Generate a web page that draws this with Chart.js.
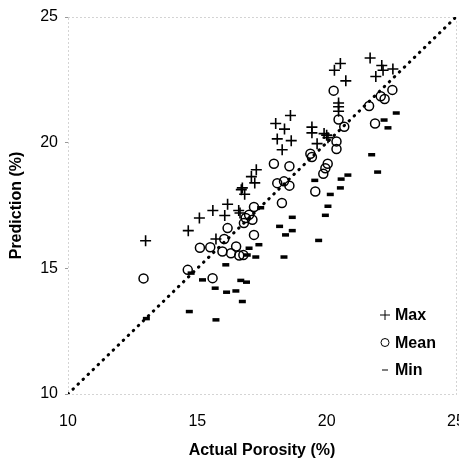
<!DOCTYPE html>
<html>
<head>
<meta charset="utf-8">
<script src="https://cdn.jsdelivr.net/npm/chart.js@4.4.0/dist/chart.umd.min.js"></script>
<style>
  html, body { margin: 0; padding: 0; background: #fff; overflow: hidden; }
  #wrap { width: 459px; height: 462px; overflow: hidden; }
</style>
</head>
<body>
<div id="wrap"><canvas id="porosityChart" width="470" height="462"></canvas></div>
<script>
// values (actual porosity %, predicted %)
const maxX = [13.0, 14.65, 15.08, 15.6, 15.72, 16.06, 16.17, 16.6, 16.65, 16.74, 16.83, 16.7, 17.09, 17.22, 17.28,
  18.03, 18.37, 18.09, 18.6, 18.63, 18.28, 19.43, 19.43, 19.63, 19.9, 20.0, 20.05,
  20.3, 20.53, 20.74, 20.46, 20.46, 20.46, 21.68, 22.13, 22.18, 22.56, 21.9];
const maxY = [16.1, 16.5, 17.0, 17.3, 16.17, 17.1, 17.55, 17.3, 17.2, 18.2, 17.95, 18.13, 18.65, 18.4, 18.92,
  20.76, 20.54, 20.15, 21.08, 20.08, 19.72, 20.62, 20.39, 19.96, 20.36, 20.3, 20.2,
  22.88, 23.15, 22.46, 21.58, 21.43, 21.25, 23.37, 23.07, 22.88, 22.93, 22.63];

const meanX = [12.92, 14.63, 15.1, 15.5, 15.59, 15.97, 16.04, 16.17, 16.3, 16.5, 16.62, 16.78, 16.8, 16.87, 17.0,
  17.13, 17.19, 17.19, 17.96, 18.56, 18.09, 18.35, 18.56, 18.27, 19.37, 19.43, 19.56, 19.87, 19.95, 20.04,
  20.38, 20.38, 20.27, 20.46, 20.68, 21.64, 21.87, 22.09, 22.24, 22.54];
const meanY = [14.6, 14.94, 15.82, 15.84, 14.61, 15.67, 16.17, 16.6, 15.6, 15.87, 15.51, 15.53, 16.8, 17.0, 17.13,
  16.93, 17.44, 16.33, 19.16, 19.06, 18.39, 18.46, 18.29, 17.6, 19.56, 19.43, 18.06, 18.76, 18.98, 19.16,
  20.05, 19.75, 22.07, 20.92, 20.63, 21.46, 20.76, 21.85, 21.74, 22.1];

const minX = [13.03, 14.69, 14.76, 15.2, 15.72, 15.69, 16.1, 16.13, 16.49, 16.68, 16.9, 16.74, 16.93, 17.0, 17.26,
  17.38, 17.45, 18.35, 18.18, 18.41, 18.67, 18.67, 19.54, 19.69, 19.95, 20.05, 20.14, 20.53, 20.56, 20.82,
  21.74, 21.97, 22.22, 22.37, 22.69];
const minY = [13.0, 13.28, 14.81, 14.54, 12.95, 14.21, 15.14, 14.05, 14.1, 14.52, 14.45, 13.68, 15.53, 15.8, 15.45,
  15.94, 17.41, 15.45, 16.67, 16.33, 16.5, 17.03, 18.5, 16.11, 17.11, 17.47, 17.94, 18.2, 18.55, 18.71,
  19.52, 18.83, 20.9, 20.59, 21.18];

const oneToOne = [10, 25];
const axisTicks = [10, 15, 20, 25];

const FONT = '"Liberation Sans", Arial, sans-serif';
const toPoints = (xs, ys) => xs.map((x, i) => ({ x: x, y: ys[i] }));

const frame = {
  id: 'frame',
  beforeDatasetsDraw(chart) {
    const a = chart.chartArea, ctx = chart.ctx;
    ctx.save();
    ctx.strokeStyle = '#a8a8a8';
    ctx.lineWidth = 1;
    ctx.setLineDash([1, 3]);
    ctx.strokeRect(a.left + 0.5, a.top + 0.5, a.right - a.left, a.bottom - a.top);
    ctx.restore();
  }
};

const insideLegend = {
  id: 'insideLegend',
  afterDatasetsDraw(chart) {
    const a = chart.chartArea, ctx = chart.ctx;
    ctx.save();
    ctx.font = 'bold 16px ' + FONT;
    ctx.textBaseline = 'middle';
    [0, 1, 2].forEach(i => {
      const ds = chart.data.datasets[i];
      const x = a.right - 71;
      const y = a.bottom - 79 + i * 27.5;
      ctx.strokeStyle = ds.borderColor;
      ctx.fillStyle = ds.backgroundColor;
      Chart.helpers.drawPoint(ctx, {
        pointStyle: ds.pointStyle,
        radius: ds.pointRadius - 0.5,
        borderWidth: ds.borderWidth,
        rotation: 0
      }, x, y);
      ctx.fillStyle = '#000';
      ctx.fillText(ds.label, x + 10, y + 1);
    });
    ctx.restore();
  }
};

new Chart(document.getElementById('porosityChart'), {
  type: 'scatter',
  data: {
    datasets: [{
      label: 'Max',
      data: toPoints(maxX, maxY),
      pointStyle: 'cross',
      pointRadius: 5.5,
      borderWidth: 1.6,
      borderColor: '#000',
      backgroundColor: '#000'
    }, {
      label: 'Mean',
      data: toPoints(meanX, meanY),
      pointStyle: 'circle',
      pointRadius: 4.5,
      borderWidth: 1.5,
      borderColor: '#000',
      backgroundColor: 'rgba(0,0,0,0)'
    }, {
      label: 'Min',
      data: toPoints(minX, minY),
      pointStyle: 'line',
      pointRadius: 3.5,
      borderWidth: 3.5,
      borderColor: '#000',
      backgroundColor: '#000'
    }, {
      type: 'line',
      label: '1:1',
      data: toPoints(oneToOne, oneToOne),
      borderColor: '#000',
      borderWidth: 3,
      borderDash: [0.5, 6.5],
      borderCapStyle: 'round',
      pointRadius: 0,
      fill: false
    }]
  },
  options: {
    responsive: false,
    devicePixelRatio: 1,
    animation: false,
    layout: { padding: { left: 2, right: 14, top: 17, bottom: 2 } },
    plugins: {
      legend: { display: false },
      tooltip: { enabled: false }
    },
    scales: {
      x: {
        type: 'linear',
        min: 10,
        max: 25,
        afterBuildTicks: s => { s.ticks = axisTicks.map(v => ({ value: v })); },
        border: { display: false },
        grid: { drawOnChartArea: false, drawTicks: true, tickLength: 18, tickColor: 'rgba(0,0,0,0)' },
        ticks: {
          padding: 0,
          color: '#000',
          font: { family: FONT, size: 16 }
        },
        title: {
          display: true,
          text: 'Actual Porosity (%)',
          color: '#000',
          padding: { top: 9.6, bottom: 0 },
          font: { family: FONT, size: 16, weight: 'bold' }
        }
      },
      y: {
        type: 'linear',
        min: 10,
        max: 25,
        afterBuildTicks: s => { s.ticks = axisTicks.map(v => ({ value: v })); },
        border: { display: false },
        grid: { drawOnChartArea: false, drawTicks: true, tickLength: 3, color: '#999' },
        ticks: {
          padding: 7,
          color: '#000',
          font: { family: FONT, size: 16 }
        },
        title: {
          display: true,
          text: 'Prediction (%)',
          color: '#000',
          padding: { top: 5, bottom: 7 },
          font: { family: FONT, size: 16, weight: 'bold' }
        }
      }
    }
  },
  plugins: [frame, insideLegend]
});
</script>
</body>
</html>
